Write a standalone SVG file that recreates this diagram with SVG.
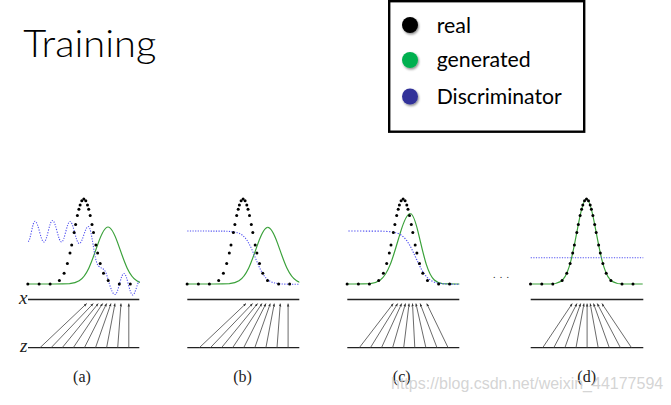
<svg xmlns="http://www.w3.org/2000/svg" xmlns:xlink="http://www.w3.org/1999/xlink" width="671" height="405" viewBox="0 0 671 405">
<style>
.ax{stroke:#222;stroke-width:1.3;fill:none}
.ar line{stroke:#444;stroke-width:0.8;marker-end:url(#ah)}
.gen{fill:none;stroke:#3aa13a;stroke-width:1.2;vector-effect:non-scaling-stroke}
.dis{fill:none;stroke:#5050f0;stroke-width:1.1;stroke-dasharray:1.2 1.4}
.lab{font-family:"Liberation Serif",serif;font-size:16px;fill:#222;text-anchor:middle}
.var{font-family:"Liberation Serif",serif;font-style:italic;font-size:19px;fill:#222;text-anchor:end}
.leg{font-family:Lato,"Liberation Sans",sans-serif;font-size:21px;fill:#000}
</style>
<defs>
<filter id="sh" x="-50%" y="-50%" width="200%" height="200%"><feDropShadow dx="1" dy="1.5" stdDeviation="1" flood-opacity="0.45"/></filter>
<marker id="ah" viewBox="0 0 6 6" refX="6" refY="3" markerWidth="3" markerHeight="3" orient="auto" markerUnits="userSpaceOnUse"><path d="M0,0.5 L6,3 L0,5.5z" fill="#333"/></marker>
<clipPath id="cp"><rect x="0" y="150" width="112" height="160"/></clipPath>
<path id="gL" class="gen" vector-effect="non-scaling-stroke" d="M -30,0 L -4.5,0 C -4.0667,0 -3.6333,-0.001 -3.2,-0.005976 C -2.9333,-0.01108 -2.6667,-0.02021 -2.4,-0.05613 C -2.1333,-0.09205 -1.8667,-0.1594 -1.6,-0.278 C -1.3333,-0.3966 -1.0667,-0.5712 -0.8,-0.7261 C -0.5333,-0.881 -0.2667,-1 0,-1"/>
<path id="gR" class="gen" vector-effect="non-scaling-stroke" d="M 0,-1 C 0.2667,-1 0.5333,-0.881 0.8,-0.7261 C 1.0667,-0.5712 1.3333,-0.3966 1.6,-0.278 C 1.8667,-0.1594 2.1333,-0.09205 2.4,-0.05613 C 2.6667,-0.02021 2.9333,-0.01108 3.2,-0.005976 C 3.6333,-0.001 4.0667,0 4.5,0 L 30,0"/>
<path id="sig" class="dis" d="M 0,231 L 36.2,231.13 C 39.73,231.22 43.27,231.33 46.8,231.96 C 50.33,232.59 53.87,233.62 57.4,237.35 C 60.93,241.08 64.47,248.77 68,257.65 C 71.53,266.54 75.07,274.22 78.6,277.95 C 82.13,281.68 85.67,282.71 89.2,283.34 C 92.73,283.97 96.27,284.08 99.8,284.17 L 112,284.3"/>
<g id="rd" fill="#000">
<circle cx="-56" cy="0" r="1.5"/><circle cx="-44.7" cy="0" r="1.5"/><circle cx="-33.7" cy="0" r="1.5"/><circle cx="-24.4" cy="-3.6" r="1.5"/><circle cx="-19.7" cy="-10.8" r="1.5"/><circle cx="-16.4" cy="-20.4" r="1.5"/><circle cx="-13.8" cy="-30.9" r="1.5"/><circle cx="-12.1" cy="-39" r="1.5"/><circle cx="-9.7" cy="-51.6" r="1.5"/><circle cx="-8.2" cy="-59.5" r="1.5"/><circle cx="-6.4" cy="-68.4" r="1.5"/><circle cx="-4.9" cy="-74.8" r="1.5"/><circle cx="-3.7" cy="-79" r="1.5"/><circle cx="-2" cy="-83.2" r="1.5"/><circle cx="0" cy="-85" r="1.5"/><circle cx="2" cy="-83.2" r="1.5"/><circle cx="3.7" cy="-79" r="1.5"/><circle cx="4.9" cy="-74.8" r="1.5"/><circle cx="6.4" cy="-68.4" r="1.5"/><circle cx="8.2" cy="-59.5" r="1.5"/><circle cx="9.7" cy="-51.6" r="1.5"/><circle cx="12.1" cy="-39" r="1.5"/><circle cx="13.8" cy="-30.9" r="1.5"/><circle cx="16.4" cy="-20.4" r="1.5"/><circle cx="19.7" cy="-10.8" r="1.5"/><circle cx="24.4" cy="-3.6" r="1.5"/><circle cx="35.5" cy="0" r="1.5"/><circle cx="46.5" cy="0" r="1.5"/>
</g>
<g id="arAB" class="ar">
<line x1="12" y1="347.7" x2="58.7" y2="303.5"/><line x1="23.1" y1="347.7" x2="65.3" y2="303.5"/><line x1="34.2" y1="347.7" x2="70.3" y2="303.5"/><line x1="45.3" y1="347.7" x2="74.7" y2="303.5"/><line x1="56.4" y1="347.7" x2="78.7" y2="303.5"/><line x1="67.5" y1="347.7" x2="83" y2="303.5"/><line x1="78.6" y1="347.7" x2="87" y2="303.5"/><line x1="89.7" y1="347.7" x2="93" y2="303.5"/><line x1="100.8" y1="347.7" x2="100.8" y2="303.5"/>
</g>
</defs>
<rect width="671" height="405" fill="#fff"/>
<g id="title"><text x="23.3" y="57.3" font-family="Lato,'Liberation Sans',sans-serif" font-weight="300" font-size="37" textLength="133" lengthAdjust="spacingAndGlyphs" fill="#000">Training</text></g>
<g id="legend">
<rect x="389.2" y="1.2" width="195" height="130.5" fill="#fff" stroke="#000" stroke-width="2.4"/>
<circle cx="410" cy="25" r="8" fill="#000" filter="url(#sh)"/>
<circle cx="410" cy="60" r="8" fill="#00b050" filter="url(#sh)"/>
<circle cx="410" cy="96.5" r="8" fill="#333399" filter="url(#sh)"/>
<text class="leg" x="436.7" y="33" textLength="34.3" lengthAdjust="spacingAndGlyphs">real</text>
<text class="leg" x="436.7" y="67" textLength="94" lengthAdjust="spacingAndGlyphs">generated</text>
<text class="leg" x="436.7" y="103.5" textLength="125" lengthAdjust="spacingAndGlyphs">Discriminator</text>
</g>
<g id="panel-a" transform="translate(28,0)">
<g clip-path="url(#cp)"><use href="#gL" transform="translate(80,284) scale(12,57)"/><use href="#gR" transform="translate(80,284) scale(12,57)"/></g>
<path class="dis" d="M 0,241.5 C 2.6,241.5 4.4,221.3 7,221.3 C 10.3,221.3 12.7,242 16,242 C 19.1,242 21.4,220.5 24.5,220.5 C 27.8,220.5 30.2,242 33.5,242 C 36.6,242 38.9,221.5 42,221.5 C 45.4,221.5 47.9,243.5 51.3,243.5 C 54.6,243.5 57,226.5 60.3,226.5 C 64,226.5 66,262 70.5,266 C 73,268.5 75,268 77,271 C 80,276 83,294.5 87,294.5 C 90.3,294.5 92.7,273.5 96,273.5 C 99.2,273.5 101.5,295 104.7,295 C 107,295 109,284 111,281"/>
<use href="#rd" x="55.8" y="284"/>
<line class="ax" x1="0" y1="299.5" x2="111.3" y2="299.5"/>
<line class="ax" x1="0" y1="347.7" x2="111.3" y2="347.7"/>
<use href="#arAB"/>
<text class="var" x="-0.5" y="303.5">x</text>
<text class="var" x="-0.5" y="351.7">z</text>
<text class="lab" x="54" y="381.5">(a)</text>
</g>
<g id="panel-b" transform="translate(187.3,0)">
<g clip-path="url(#cp)"><use href="#gL" transform="translate(80.5,284) scale(12,56.6)"/><use href="#gR" transform="translate(80.5,284) scale(12,56.6)"/></g>
<use href="#sig"/>
<use href="#rd" x="55.8" y="284"/>
<line class="ax" x1="0" y1="299.5" x2="112" y2="299.5"/>
<line class="ax" x1="0" y1="347.7" x2="112" y2="347.7"/>
<use href="#arAB"/>
<text class="lab" x="55.2" y="381.5">(b)</text>
</g>
<g id="panel-c" transform="translate(347.3,0)">
<g clip-path="url(#cp)"><use href="#gL" transform="translate(63,284) scale(12.5,70.5)"/><use href="#gR" transform="translate(63,284) scale(10,70.5)"/></g>
<g clip-path="url(#cp)"><use href="#sig" transform="translate(68.5,0) scale(1.12,1) translate(-68,0)"/></g>
<use href="#rd" x="55.8" y="284"/>
<line class="ax" x1="0" y1="299.5" x2="112" y2="299.5"/>
<line class="ax" x1="0" y1="347.7" x2="112" y2="347.7"/>
<g class="ar">
<line x1="12" y1="347.7" x2="46" y2="303.5"/><line x1="23.1" y1="347.7" x2="50.4" y2="303.5"/><line x1="34.2" y1="347.7" x2="54.4" y2="303.5"/><line x1="45.3" y1="347.7" x2="58.2" y2="303.5"/><line x1="56.4" y1="347.7" x2="61.8" y2="303.5"/><line x1="67.5" y1="347.7" x2="65.2" y2="303.5"/><line x1="78.6" y1="347.7" x2="68.6" y2="303.5"/><line x1="89.7" y1="347.7" x2="72.8" y2="303.5"/><line x1="100.8" y1="347.7" x2="79.4" y2="303.5"/>
</g>
<text class="lab" x="54.4" y="381.5">(c)</text>
</g>
<g id="dots"><text x="493" y="277.5" font-family="'Liberation Serif',serif" font-size="10" letter-spacing="4.2" fill="#222">...</text></g>
<g id="panel-d" transform="translate(530.7,0)">
<g clip-path="url(#cp)"><use href="#gL" transform="translate(55.8,284) scale(9.7,85)"/><use href="#gR" transform="translate(55.8,284) scale(9.7,85)"/></g>
<line class="dis" x1="0" y1="257.7" x2="112.6" y2="257.7"/>
<use href="#rd" x="55.8" y="284"/>
<line class="ax" x1="0" y1="299.5" x2="112.6" y2="299.5"/>
<line class="ax" x1="0" y1="347.7" x2="112.6" y2="347.7"/>
<g class="ar">
<line x1="12" y1="347.7" x2="41.6" y2="303.5"/><line x1="23.1" y1="347.7" x2="46.3" y2="303.5"/><line x1="34.2" y1="347.7" x2="50" y2="303.5"/><line x1="45.3" y1="347.7" x2="53.3" y2="303.5"/><line x1="56.4" y1="347.7" x2="56.4" y2="303.5"/><line x1="67.5" y1="347.7" x2="59.5" y2="303.5"/><line x1="78.6" y1="347.7" x2="62.8" y2="303.5"/><line x1="89.7" y1="347.7" x2="66.5" y2="303.5"/><line x1="100.8" y1="347.7" x2="71.2" y2="303.5"/>
</g>
<text class="lab" x="56" y="381.5">(d)</text>
</g>
<g id="watermark"><text x="391" y="389" font-family="'Liberation Sans',Arial,sans-serif" font-size="16" fill="#cfcfcf" fill-opacity="0.9">https://blog.csdn.net/weixin_44177594</text></g>
</svg>
